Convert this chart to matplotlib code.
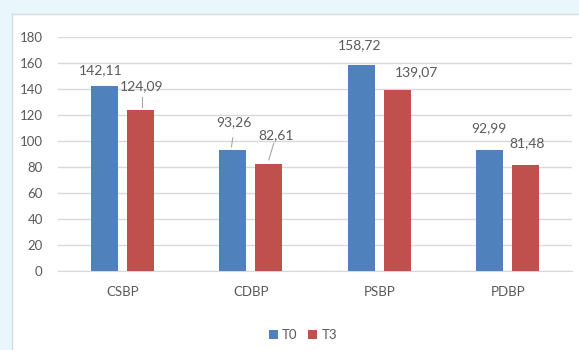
import matplotlib.pyplot as plt
from matplotlib.patches import Rectangle
from matplotlib.lines import Line2D
import numpy as np

categories = ['CSBP', 'CDBP', 'PSBP', 'PDBP']
t0 = [142.11, 93.26, 158.72, 92.99]
t3 = [124.09, 82.61, 139.07, 81.48]
t0_labels = ['142,11', '93,26', '158,72', '92,99']
t3_labels = ['124,09', '82,61', '139,07', '81,48']

# label positions (data coords) as placed in the original chart
t0_label_pos = [(-0.17, 154.5), (0.87, 114.5), (1.85, 174), (2.85, 110)]
t3_label_pos = [(0.15, 142.5), (1.2, 104.5), (2.29, 153), (3.15, 98.5)]
# leader lines: (x0, y0, x1, y1)
leaders = [(0.86, 102.5, 0.85, 95.5), (0.15, 134, 0.15, 126.5), (1.18, 98.5, 1.14, 85.5)]

blue = '#4f81bd'
red = '#c0504d'
txt = '#595959'
grid = '#d9d9d9'

plt.rcParams['font.family'] = ['Lato', 'DejaVu Sans']

fig = plt.figure(figsize=(5.79, 3.5), dpi=100)
fig.patch.set_facecolor('white')
# light blue frame strips
fig.add_artist(Rectangle((0, 1 - 14 / 350), 1, 14 / 350, transform=fig.transFigure,
                         facecolor='#e9f6fc', edgecolor='none'))
fig.add_artist(Rectangle((0, 0), 12 / 579, 1, transform=fig.transFigure,
                         facecolor='#e9f6fc', edgecolor='none'))
fig.add_artist(Line2D([12 / 579, 1], [1 - 14 / 350, 1 - 14 / 350], transform=fig.transFigure,
                      color='#d4dadd', lw=1))
fig.add_artist(Line2D([12 / 579, 12 / 579], [0, 1 - 14 / 350], transform=fig.transFigure,
                      color='#d4dadd', lw=1))

ax = fig.add_axes([58 / 579, 79 / 350, 514 / 579, 234 / 350])
x = np.arange(len(categories))
w = 0.21
ax.bar(x - 0.14, t0, w, color=blue, label='T0', zorder=3)
ax.bar(x + 0.14, t3, w, color=red, label='T3', zorder=3)

for (lx, ly), s in zip(t0_label_pos, t0_labels):
    ax.text(lx, ly, s, ha='center', va='center', fontsize=10, color=txt)
for (lx, ly), s in zip(t3_label_pos, t3_labels):
    ax.text(lx, ly, s, ha='center', va='center', fontsize=10, color=txt)
for x0, y0, x1, y1 in leaders:
    ax.plot([x0, x1], [y0, y1], color='#a6a6a6', lw=0.8, zorder=4)

ax.set_xlim(-0.5, 3.5)
ax.set_ylim(0, 180)
ax.set_yticks(range(0, 181, 20))
ax.set_xticks(x)
ax.set_xticklabels(categories)
ax.yaxis.grid(True, color=grid, lw=1)
ax.set_axisbelow(True)
for s in ['top', 'right', 'left']:
    ax.spines[s].set_visible(False)
ax.spines['bottom'].set_color(grid)
ax.tick_params(axis='both', length=0, colors=txt, labelsize=9.5)
ax.tick_params(axis='x', pad=11)
ax.tick_params(axis='y', pad=11)

fig.legend(loc='center', bbox_to_anchor=(303 / 579, 1 - 335 / 350), ncol=2, frameon=False,
           fontsize=9.5, labelcolor=txt, handlelength=0.7, handleheight=0.7,
           handletextpad=0.3, columnspacing=0.8)

fig.savefig('out.png', dpi=100)
